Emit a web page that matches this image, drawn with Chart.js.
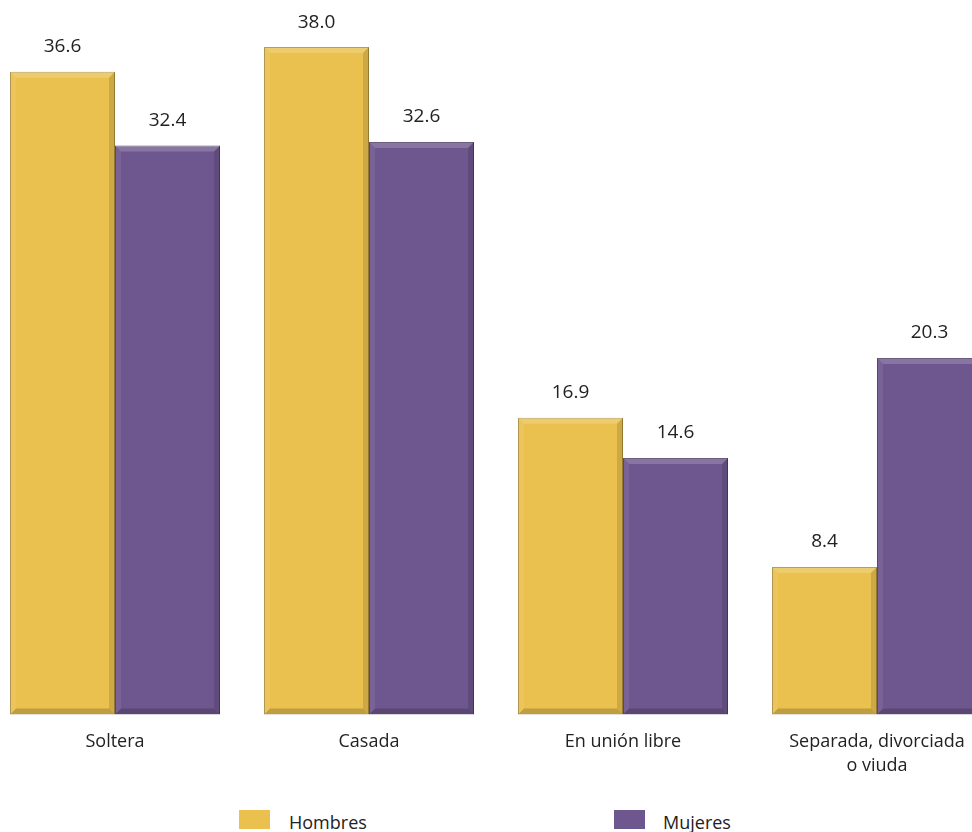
<!DOCTYPE html>
<html>
<head>
<meta charset="utf-8">
<script src="https://cdn.jsdelivr.net/npm/chart.js@4/dist/chart.umd.min.js"></script>
<style>
  html, body { margin: 0; padding: 0; background: #fff; overflow: hidden; width: 972px; height: 832px; }
  #wrap { position: absolute; left: -12px; top: 0; width: 1016px; height: 785px; }
  .leg { position: absolute; top: 810px; font-family: "Open Sans", "Noto Sans", sans-serif; font-size: 18px; color: #222; }
  .sw { position: absolute; top: 810px; width: 31px; height: 19px; }
</style>
</head>
<body>
<div id="wrap"><canvas id="c"></canvas></div>
<div class="sw" style="left:239px;background:#EAC14F"></div>
<div class="leg" style="left:289px;top:810px">Hombres</div>
<div class="sw" style="left:614px;background:#6E578E"></div>
<div class="leg" style="left:663px;top:810px">Mujeres</div>
<script>
const categories = ['Soltera', 'Casada', 'En unión libre', ['Separada, divorciada', 'o viuda']];
const hombres = [36.6, 38.0, 16.9, 8.4];
const mujeres = [32.4, 32.6, 14.6, 20.3];

// relieve de las barras
const bevel = {
  id: 'bevel',
  afterDatasetsDraw(chart) {
    const ctx = chart.ctx;
    chart.data.datasets.forEach((ds, i) => {
      chart.getDatasetMeta(i).data.forEach(bar => {
        const l = bar.x - bar.width / 2, r = bar.x + bar.width / 2;
        const t = bar.y, b = bar.base, d = 6;
        ctx.save();
        ctx.fillStyle = 'rgba(255,255,255,0.18)';
        ctx.beginPath(); ctx.moveTo(l, t); ctx.lineTo(r, t); ctx.lineTo(r - d, t + d); ctx.lineTo(l + d, t + d); ctx.fill();
        ctx.fillStyle = 'rgba(255,255,255,0.07)';
        ctx.beginPath(); ctx.moveTo(l, t); ctx.lineTo(l + d, t + d); ctx.lineTo(l + d, b - d); ctx.lineTo(l, b); ctx.fill();
        ctx.fillStyle = 'rgba(0,0,0,0.12)';
        ctx.beginPath(); ctx.moveTo(r, t); ctx.lineTo(r, b); ctx.lineTo(r - d, b - d); ctx.lineTo(r - d, t + d); ctx.fill();
        ctx.fillStyle = 'rgba(0,0,0,0.18)';
        ctx.beginPath(); ctx.moveTo(l, b); ctx.lineTo(r, b); ctx.lineTo(r - d, b - d); ctx.lineTo(l + d, b - d); ctx.fill();
        ctx.restore();
      });
    });
  }
};

const valueLabels = {
  id: 'valueLabels',
  afterDatasetsDraw(chart) {
    const ctx = chart.ctx;
    ctx.save();
    ctx.font = '19px "Open Sans", "Noto Sans", sans-serif';
    ctx.fillStyle = '#222';
    ctx.textAlign = 'center';
    ctx.textBaseline = 'middle';
    chart.data.datasets.forEach((ds, i) => {
      chart.getDatasetMeta(i).data.forEach((bar, j) => {
        ctx.fillText(ds.data[j].toFixed(1), bar.x, bar.y - 25);
      });
    });
    ctx.restore();
  }
};

new Chart(document.getElementById('c'), {
  type: 'bar',
  data: {
    labels: categories,
    datasets: [
      { label: 'Hombres', data: hombres, backgroundColor: '#EAC14F', borderColor: '#A8893A', borderWidth: 1 },
      { label: 'Mujeres', data: mujeres, backgroundColor: '#6E578E', borderColor: '#4A3A63', borderWidth: 1 }
    ]
  },
  options: {
    responsive: true,
    maintainAspectRatio: false,
    animation: false,
    layout: { padding: { top: 12, left: 0, right: 0, bottom: 0 } },
    datasets: { bar: { categoryPercentage: 0.827, barPercentage: 1 } },
    plugins: { legend: { display: false }, tooltip: { enabled: false } },
    scales: {
      y: { display: false, min: 0, max: 40 },
      x: {
        grid: { display: false },
        border: { display: false },
        ticks: { padding: 7, color: '#222', font: { family: '"Open Sans", "Noto Sans", sans-serif', size: 18, lineHeight: 1.35 } }
      }
    }
  },
  plugins: [bevel, valueLabels]
});
</script>
</body>
</html>
